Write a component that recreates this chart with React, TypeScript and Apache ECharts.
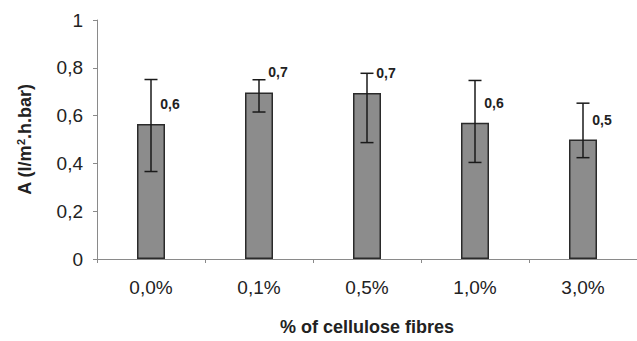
import React, { useEffect, useRef } from "react";
import * as echarts from "echarts";

// Permeability coefficient A by cellulose fibre content
const categories = ["0,0%", "0,1%", "0,5%", "1,0%", "3,0%"];
const meanValues = [0.565, 0.697, 0.695, 0.57, 0.5];
const errorLow = [0.366, 0.615, 0.487, 0.404, 0.424];
const errorHigh = [0.751, 0.75, 0.777, 0.747, 0.652];
const yTicks = [0, 0.2, 0.4, 0.6, 0.8, 1];

const fmtComma = (v: number) => v.toFixed(1).replace(".", ",");

export default function App() {
  const ref = useRef<HTMLDivElement>(null);

  useEffect(() => {
    if (!ref.current) return;
    const chart = echarts.init(ref.current, undefined, { renderer: "svg" });
    const font = "Liberation Sans, Arial, sans-serif";

    const errorData = categories.map((_, i) => [i, errorLow[i], errorHigh[i]]);

    chart.setOption({
      animation: false,
      backgroundColor: "#ffffff",
      textStyle: { fontFamily: font, color: "#222" },
      grid: { left: 97, right: -5, top: 20, bottom: 76, containLabel: false },
      xAxis: {
        type: "category",
        data: categories,
        boundaryGap: true,
        name: "% of cellulose fibres",
        nameLocation: "middle",
        nameGap: 59,
        nameTextStyle: { fontFamily: font, fontSize: 18, fontWeight: "bold", color: "#222" },
        axisLine: { lineStyle: { color: "#8a8a8a", width: 1 } },
        axisTick: { show: true, alignWithLabel: false, length: 4, lineStyle: { color: "#8a8a8a" } },
        axisLabel: { fontFamily: font, fontSize: 19, color: "#222", margin: 19 },
        splitLine: { show: false },
      },
      yAxis: {
        type: "value",
        min: yTicks[0],
        max: yTicks[yTicks.length - 1],
        interval: 0.2,
        name: "A (l/m{sup|2}.h.bar)",
        nameLocation: "middle",
        nameGap: 63,
        nameRotate: 90,
        nameTextStyle: {
          fontFamily: font,
          fontSize: 18,
          fontWeight: "bold",
          color: "#222",
          rich: {
            sup: { fontFamily: font, fontSize: 11, fontWeight: "bold", color: "#222", verticalAlign: "top", padding: [0, 0, 8, 0] },
          },
        },
        axisLine: { show: true, lineStyle: { color: "#8a8a8a", width: 1 } },
        axisTick: { show: true, length: 4, lineStyle: { color: "#8a8a8a" } },
        axisLabel: {
          fontFamily: font,
          fontSize: 19,
          color: "#222",
          margin: 14,
          formatter: (v: number) => (v === 0 || v === 1 ? String(v) : fmtComma(v)),
        },
        splitLine: { show: false },
      },
      series: [
        {
          type: "bar",
          data: meanValues,
          barWidth: 28,
          itemStyle: { color: "#8c8c8c", borderColor: "#2a2a2a", borderWidth: 1.5 },
          label: {
            show: true,
            position: "top",
            offset: [19, -8],
            fontFamily: font,
            fontSize: 14,
            fontWeight: "bold",
            color: "#222",
            formatter: (p: any) => fmtComma(p.value),
          },
          z: 2,
        },
        {
          type: "custom",
          data: errorData,
          z: 3,
          renderItem: (params: any, api: any) => {
            const x = api.value(0);
            const lo = api.coord([x, api.value(1)]);
            const hi = api.coord([x, api.value(2)]);
            const half = 6.5;
            const style = { stroke: "#1a1a1a", lineWidth: 1.5 };
            return {
              type: "group",
              children: [
                { type: "line", shape: { x1: hi[0], y1: hi[1], x2: lo[0], y2: lo[1] }, style },
                { type: "line", shape: { x1: hi[0] - half, y1: hi[1], x2: hi[0] + half, y2: hi[1] }, style },
                { type: "line", shape: { x1: lo[0] - half, y1: lo[1], x2: lo[0] + half, y2: lo[1] }, style },
              ],
            };
          },
        },
      ],
    });

    return () => chart.dispose();
  }, []);

  return (
    <div
      ref={ref}
      style={{ position: "absolute", left: 0, top: 0, width: 637, height: 341 }}
    />
  );
}
